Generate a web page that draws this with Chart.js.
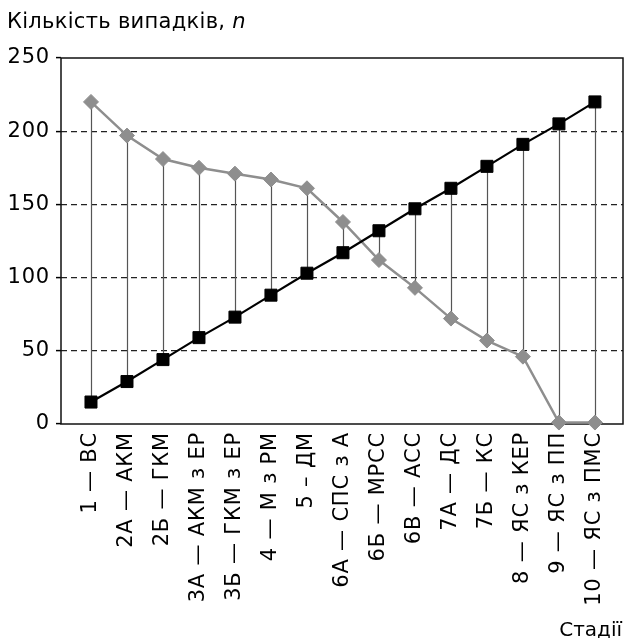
<!DOCTYPE html>
<html><head><meta charset="utf-8">
<script src="https://cdn.jsdelivr.net/npm/chart.js@4"></script>
<style>html,body{margin:0;padding:0;background:#fff}#wrap{width:625px;height:638px;position:relative}</style>
</head><body><div id="wrap"><canvas id="c" width="625" height="638"></canvas></div>
<script>
const stages = ['1 — ВС','2А — АКМ','2Б — ГКМ','3А — АКМ з ЕР','3Б — ГКМ з ЕР','4 — М з РМ','5 – ДМ','6А — СПС з А','6Б — МРСС','6В — АСС','7А — ДС','7Б — КС','8 — ЯС з КЕР','9 — ЯС з ПП','10 — ЯС з ПМС'];
const seriesBlack = [15,29,44,59,73,88,103,117,132,147,161,176,191,205,220];
const seriesGray = [220,197,181,175,171,167,161,138,112,93,72,57,46,1,1];
const yTicks = [0,50,100,150,200,250];
const yTitle = 'Кількість випадків, ';
const yTitleVar = 'n';
const xTitle = 'Стадії';

const FONT = '"DejaVu Sans", sans-serif';
const SPACING = '0.8px';

const framePlugin = {
  id: 'frame',
  beforeUpdate(chart) { chart.ctx.letterSpacing = SPACING; },
  beforeLayout(chart) { chart.ctx.letterSpacing = SPACING; },
  beforeDraw(chart) { chart.ctx.letterSpacing = SPACING; },
  beforeDatasetsDraw(chart) {
    const {ctx, chartArea: a} = chart;
    ctx.save();
    const m0 = chart.getDatasetMeta(0).data, m1 = chart.getDatasetMeta(1).data;
    ctx.strokeStyle = '#555';
    ctx.lineWidth = 1.2;
    for (let i = 0; i < m0.length; i++) {
      ctx.beginPath();
      ctx.moveTo(Math.round(m0[i].x) + 0.5, m0[i].y);
      ctx.lineTo(Math.round(m1[i].x) + 0.5, m1[i].y);
      ctx.stroke();
    }
    ctx.strokeStyle = '#111';
    ctx.lineWidth = 1.5;
    ctx.strokeRect(a.left, a.top, a.right - a.left, a.bottom - a.top);
    ctx.restore();
  },
  afterDraw(chart) {
    const {ctx} = chart;
    ctx.save();
    ctx.fillStyle = '#000';
    ctx.textBaseline = 'alphabetic';
    ctx.letterSpacing = '0.3px';
    ctx.font = '21px ' + FONT;
    ctx.textAlign = 'left';
    ctx.fillText(yTitle, 7, 28);
    const w = ctx.measureText(yTitle).width;
    ctx.font = 'italic 21px ' + FONT;
    ctx.fillText(yTitleVar, 7 + w, 28);
    ctx.letterSpacing = '0px';
    ctx.font = '20px ' + FONT;
    ctx.textAlign = 'right';
    ctx.fillText(xTitle, 622, 636);
    ctx.restore();
  }
};

new Chart(document.getElementById('c'), {
  type: 'line',
  data: {
    datasets: [
      {
        data: seriesBlack.map((v, i) => ({x: i, y: v})),
        borderColor: '#000', backgroundColor: '#000',
        borderWidth: 2.2,
        pointStyle: 'rect', pointRadius: 8.5, pointBorderWidth: 1,
        pointBackgroundColor: '#000', pointBorderColor: '#000',
        clip: false, order: 1
      },
      {
        data: seriesGray.map((v, i) => ({x: i, y: v})),
        borderColor: '#8e8e8e', backgroundColor: '#8e8e8e',
        borderWidth: 2.5,
        pointStyle: 'rectRot', pointRadius: 7.5, pointBorderWidth: 1,
        pointBackgroundColor: '#8e8e8e', pointBorderColor: '#8e8e8e',
        clip: false, order: 2
      }
    ]
  },
  options: {
    responsive: false, animation: false, devicePixelRatio: 1,
    layout: {autoPadding: false, padding: {top: 58, right: 2, left: 0, bottom: 0}},
    plugins: {legend: {display: false}, tooltip: {enabled: false}},
    elements: {line: {tension: 0}},
    scales: {
      x: {
        type: 'linear', min: -0.833, max: 14.78,
        afterBuildTicks: s => { s.ticks = stages.map((_, i) => ({value: i})); },
        afterFit: s => { s.height = 214; s.paddingLeft = 0; s.paddingRight = 0; },
        grid: {display: false},
        border: {display: false},
        ticks: {
          autoSkip: false, maxRotation: 90, minRotation: 90,
          padding: 0, color: '#000',
          font: {family: FONT, size: 21},
          callback: v => stages[v]
        }
      },
      y: {
        min: 0, max: 250,
        afterBuildTicks: s => { s.ticks = yTicks.map(v => ({value: v})); },
        afterFit: s => { s.width = 61; s.paddingTop = 0; s.paddingBottom = 0; },
        grid: {
          color: c => (c.tick && (c.tick.value === 0 || c.tick.value === 250)) ? 'rgba(0,0,0,0)' : '#222',
          lineWidth: 1.2, drawTicks: true, tickLength: 5, tickColor: '#000', tickWidth: 1.5
        },
        border: {display: false, dash: c => (c.tick ? [6, 4] : [])},
        ticks: {padding: 6, color: '#000', font: {family: FONT, size: 21}}
      }
    }
  },
  plugins: [framePlugin]
});
</script></body></html>
